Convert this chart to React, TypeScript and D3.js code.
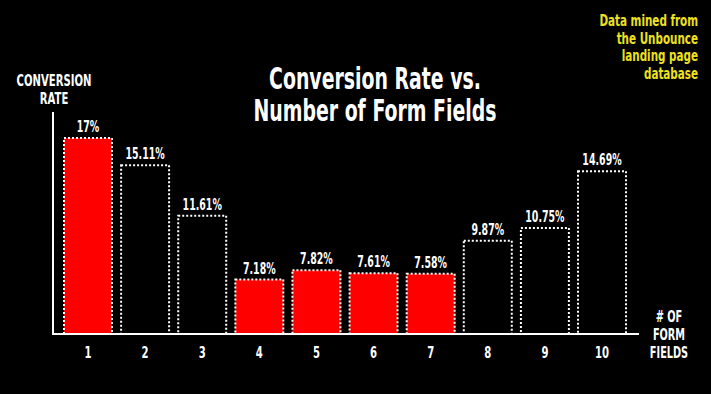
import React, { useRef, useEffect } from 'react';
import * as d3 from 'd3';

const fields = ['1', '2', '3', '4', '5', '6', '7', '8', '9', '10'];
const rates = [17, 15.11, 11.61, 7.18, 7.82, 7.61, 7.58, 9.87, 10.75, 14.69];
const rateLabels = ['17%', '15.11%', '11.61%', '7.18%', '7.82%', '7.61%', '7.58%', '9.87%', '10.75%', '14.69%'];
const highlighted = [true, false, false, true, true, true, true, false, false, false];

const titleLines = ['Conversion Rate vs.', 'Number of Form Fields'];
const yLabelLines = ['CONVERSION', 'RATE'];
const xLabelLines = ['# OF', 'FORM', 'FIELDS'];
const sourceLines = ['Data mined from', 'the Unbounce', 'landing page', 'database'];

const W = 711;
const H = 394;
const FONT = "'DejaVu Sans', sans-serif";
const SQUEEZE = 0.63; // the original uses a condensed face

const App = () => {
    const svgRef = useRef<SVGSVGElement>(null);

    useEffect(() => {
        const svg = d3.select(svgRef.current);
        svg.selectAll('*').remove();

        svg.append('rect').attr('width', W).attr('height', H).attr('fill', '#000');

        const baseY = 334;
        const x = d3.scaleBand().domain(fields).range([64, 626]).paddingInner(0.16).paddingOuter(0);
        // the infographic bars do not start at zero
        const y = d3.scaleLinear().domain([3.4, 17]).range([baseY, 138]);

        // condensed text: translate to the anchor point, then squeeze horizontally
        const label = (g, px, py, size, color, anchor) =>
            g.append('text')
                .attr('transform', (d, i) => `translate(${px(d, i)},${py(d, i)}) scale(${SQUEEZE},1)`)
                .attr('text-anchor', anchor)
                .attr('fill', color)
                .attr('font-family', FONT)
                .attr('font-weight', 'bold')
                .attr('font-size', size);

        const bars = svg.append('g');
        bars.selectAll('rect')
            .data(rates)
            .enter()
            .append('rect')
            .attr('x', (d, i) => x(fields[i])!)
            .attr('y', d => y(d))
            .attr('width', x.bandwidth())
            .attr('height', d => baseY - y(d))
            .attr('fill', (d, i) => highlighted[i] ? '#ff0000' : 'none')
            .attr('stroke', '#fff')
            .attr('stroke-width', 2)
            .attr('stroke-dasharray', '2,2');

        label(
            bars.selectAll('text').data(rates).enter(),
            (d, i) => x(fields[i])! + x.bandwidth() / 2,
            d => y(d) - 6,
            15, '#fff', 'middle'
        ).text((d, i) => rateLabels[i]);

        // axes
        svg.append('line').attr('x1', 53).attr('x2', 53).attr('y1', 112).attr('y2', baseY)
            .attr('stroke', '#fff').attr('stroke-width', 2);
        svg.append('line').attr('x1', 52).attr('x2', 639).attr('y1', baseY).attr('y2', baseY)
            .attr('stroke', '#fff').attr('stroke-width', 2);

        label(
            svg.append('g').selectAll('text').data(fields).enter(),
            d => x(d)! + x.bandwidth() / 2,
            () => 358,
            16, '#fff', 'middle'
        ).text(d => d);

        const addLines = (lines, xPos, y0, dy, size, color, anchor) => {
            label(
                svg.append('g').selectAll('text').data(lines).enter(),
                () => xPos,
                (d, i) => y0 + i * dy,
                size, color, anchor
            ).text(d => d);
        };

        addLines(titleLines, 375, 89, 32, 30, '#fff', 'middle');
        addLines(yLabelLines, 54, 86, 18, 16, '#fff', 'middle');
        addLines(xLabelLines, 669, 322, 18, 15.5, '#fff', 'middle');
        addLines(sourceLines, 698, 26, 17.5, 16.5, '#eee21f', 'end');
    }, []);

    return <svg ref={svgRef} width={W} height={H} style={{ position: 'fixed', left: 0, top: 0 }}></svg>;
};

export default App;
